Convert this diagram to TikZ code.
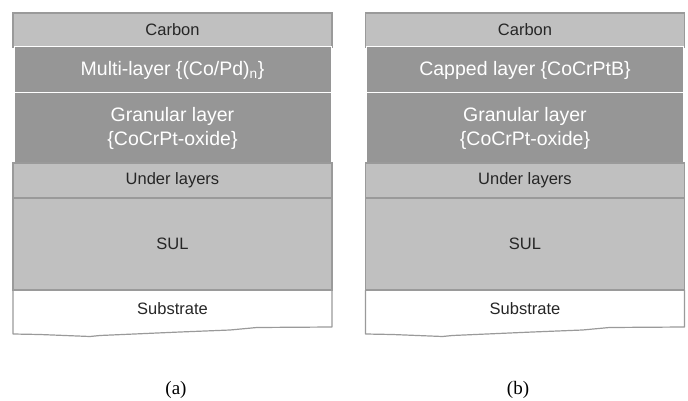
\documentclass[tikz,border=0pt]{standalone}
\usepackage{fontspec}
\setmainfont{Liberation Serif}
\newfontfamily\layerfont{Liberation Sans}
\usetikzlibrary{positioning}

\definecolor{lightlayer}{HTML}{C0C0C0}
\definecolor{darklayer}{HTML}{969696}
\definecolor{edgegray}{HTML}{9A9A9A}

\begin{document}
\begin{tikzpicture}[
  x=1pt, y=1pt,
  light/.style = {draw=edgegray, line width=1.2pt, fill=lightlayer, minimum width=319pt, inner sep=0pt, outer sep=0pt, font=\layerfont\fontsize{16.5}{19}\selectfont, text=black!85},
  dark/.style = {draw=white, line width=1pt, fill=darklayer, minimum width=317pt, inner sep=0pt, outer sep=0pt, align=center, font=\layerfont\fontsize{19.5}{24}\selectfont, text=white},
  base/.style = {minimum width=319pt, inner sep=0pt, outer sep=0pt, font=\layerfont\fontsize{16.5}{19}\selectfont, text=black!85},
  edge/.style = {draw=edgegray, line width=1.2pt, line join=round},
  caption/.style = {font=\fontsize{19}{22}\selectfont},
  node distance=0pt
]
  \useasboundingbox (0,0) rectangle (688,-401);

  % stack (a)
  \node[light, minimum height=34pt] (carbonA) at (172.5,-30) {Carbon};
  \node[dark, minimum height=46pt, below=of carbonA] (magA) {Multi-layer \{(Co/Pd)\textsubscript{n}\}};
  \node[dark, minimum height=70pt, below=of magA] (granA) {Granular layer\\\{CoCrPt-oxide\}};
  \node[light, minimum height=35pt, below=of granA] (underA) {Under layers};
  \node[light, minimum height=92pt, below=of underA] (sulA) {SUL};
  \node[base, minimum height=37pt, below=of sulA] (subA) {Substrate};
  \draw[edge] (subA.north west) -- (subA.south west) -- ++(0,-7)
    -- ++(27,-0.5) -- ++(50,-2) -- ++(10,1) -- ++(80,3.5) -- ++(50,2) -- ++(27,2.5)
    -- (subA.south east) -- (subA.north east);

  % stack (b)
  \node[light, minimum height=34pt] (carbonB) at (525,-30) {Carbon};
  \node[dark, minimum height=46pt, below=of carbonB] (capB) {Capped layer \{CoCrPtB\}};
  \node[dark, minimum height=70pt, below=of capB] (granB) {Granular layer\\\{CoCrPt-oxide\}};
  \node[light, minimum height=35pt, below=of granB] (underB) {Under layers};
  \node[light, minimum height=92pt, below=of underB] (sulB) {SUL};
  \node[base, minimum height=37pt, below=of sulB] (subB) {Substrate};
  \draw[edge] (subB.north west) -- (subB.south west) -- ++(0,-7)
    -- ++(27,-0.5) -- ++(50,-2) -- ++(10,1) -- ++(80,3.5) -- ++(50,2) -- ++(27,2.5)
    -- (subB.south east) -- (subB.north east);

  % captions
  \node[caption] (capa) at (176,-390) {(a)};
  \node[caption] (capb) at (518,-390) {(b)};

\end{tikzpicture}
\end{document}
